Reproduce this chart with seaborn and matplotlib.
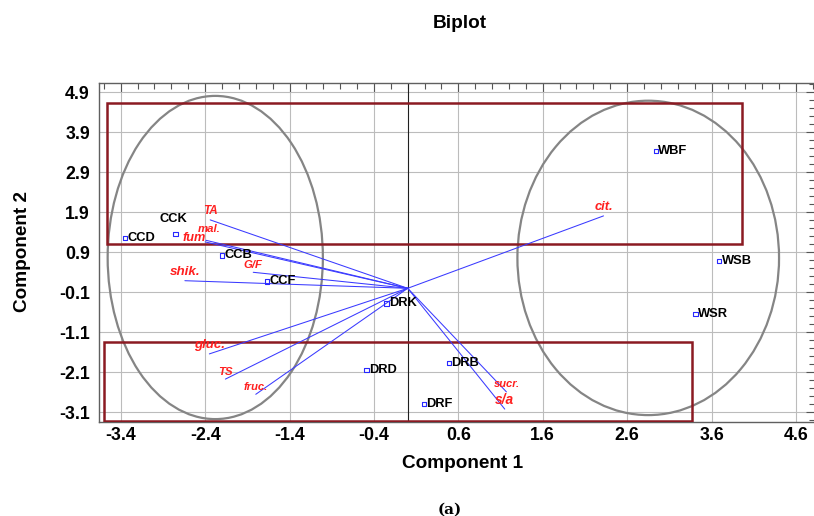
import numpy as np
import pandas as pd
import matplotlib
matplotlib.use("Agg")
import matplotlib.pyplot as plt
import seaborn as sns
from matplotlib.patches import Ellipse, Rectangle
from matplotlib.ticker import FixedLocator

# ---------------- data ----------------
sample_names = ["CCD", "CCK", "CCB", "CCF", "DRK", "DRD", "DRB", "DRF", "WBF", "WSB", "WSR"]
sample_pc1 = [-3.35, -2.75, -2.20, -1.67, -0.25, -0.49, 0.49, 0.19, 2.94, 3.69, 3.41]
sample_pc2 = [1.25, 1.36, 0.82, 0.17, -0.38, -2.04, -1.86, -2.90, 3.43, 0.68, -0.65]

var_names = ["TA", "mal.", "fum", "G/F", "shik.", "gluc.", "TS", "fruc.", "sucr.", "s/a", "cit."]
var_pc1 = [-2.34, -2.39, -2.40, -1.83, -2.64, -2.35, -2.16, -1.80, 1.17, 1.15, 2.32]
var_pc2 = [1.71, 1.20, 1.16, 0.40, 0.19, -1.64, -2.27, -2.65, -2.59, -3.02, 1.81]

x_ticks = [-3.4, -2.4, -1.4, -0.4, 0.6, 1.6, 2.6, 3.6, 4.6]
y_ticks = [-3.1, -2.1, -1.1, -0.1, 0.9, 1.9, 2.9, 3.9, 4.9]

# group ellipses: centre x, centre y, width, height
ellipse_cx = [-2.28, 2.85]
ellipse_cy = [0.77, 0.76]
ellipse_w = [2.55, 3.10]
ellipse_h = [8.08, 7.86]

# group boxes: x0, y0, x1, y1
box_x0 = [-3.56, -3.60]
box_y0 = [1.11, -3.31]
box_x1 = [3.96, 3.37]
box_y1 = [4.64, -1.335]

# ---------------- styling ----------------
sns.set_theme(style="white")
plt.rcParams["font.family"] = ["Liberation Sans", "DejaVu Sans"]
plt.rcParams["text.color"] = "black"
plt.rcParams["axes.labelcolor"] = "black"

DPI = 100
fig = plt.figure(figsize=(8.14, 5.16), dpi=DPI)
W, H = 814, 516
ax_left, ax_right, ax_top, ax_bottom = 99.3, 815.0, 82.7, 421.7
ax = fig.add_axes([ax_left / W, 1 - ax_bottom / H,
                   (ax_right - ax_left) / W, (ax_bottom - ax_top) / H])

ax.set_xlim(-3.654, 4.826)
ax.set_ylim(-3.335, 5.14)

ax.xaxis.set_major_locator(FixedLocator(x_ticks))
ax.yaxis.set_major_locator(FixedLocator(y_ticks))
ax.yaxis.set_minor_locator(FixedLocator(np.round(np.arange(-3.3, 5.2, 0.2), 2)))
ax.xaxis.set_minor_locator(FixedLocator(np.round(np.arange(-3.6, 4.9, 0.2), 2)))
ax.grid(True, which="major", color="#bcbcbc", lw=0.8, zorder=0)
ax.set_axisbelow(True)
ax.axvline(0, color="#202020", lw=0.8, zorder=1)

ax.set_xticklabels([f"{v:.1f}" for v in x_ticks])
ax.set_yticklabels([f"{v:.1f}" for v in y_ticks])
for lab in ax.get_xticklabels() + ax.get_yticklabels():
    lab.set_fontweight("bold")
    lab.set_fontsize(12.8)
    lab.set_color("black")

ax.tick_params(which="both", direction="in", top=True, right=True,
               color="#555555", width=0.8, labelcolor="black")
ax.tick_params(which="major", length=6.5)
ax.tick_params(which="minor", length=4.0)
ax.tick_params(axis="y", which="major", pad=6.7)
ax.tick_params(axis="x", which="major", pad=3.5)
for sp in ax.spines.values():
    sp.set_color("#606060")
    sp.set_linewidth(1.0)

# ellipses and boxes
for cx, cy, w, h in zip(ellipse_cx, ellipse_cy, ellipse_w, ellipse_h):
    ax.add_patch(Ellipse((cx, cy), w, h, fill=False, edgecolor="#858585", lw=1.6, zorder=2))
for x0, y0, x1, y1 in zip(box_x0, box_y0, box_x1, box_y1):
    ax.add_patch(Rectangle((x0, y0), x1 - x0, y1 - y0, fill=False,
                           edgecolor="#8b1a22", lw=1.8, zorder=3))

# loading vectors
vec_df = pd.DataFrame({"name": var_names, "pc1": var_pc1, "pc2": var_pc2})
for _, r in vec_df.iterrows():
    ax.plot([0, r.pc1], [0, r.pc2], color="#3a3aff", lw=0.75, zorder=4)

# label styles for vectors (size in pt, offset in px: dx, dy above endpoint)
vec_size = {"TA": 8.4, "mal.": 8.2, "fum": 9.2, "G/F": 8.2, "shik.": 9.6, "gluc.": 9.5,
            "TS": 8.2, "fruc.": 8.0, "sucr.": 8.0, "s/a": 9.9, "cit.": 9.3}
vec_off = {"mal.": (3.5, 6.0), "fum": (-11.0, -2.0)}
px2pt = 72.0 / DPI
for _, r in vec_df.iterrows():
    dx, dy = vec_off.get(r["name"], (0.0, 2.5))
    ax.annotate(r["name"], (r.pc1, r.pc2), xytext=(dx * px2pt, dy * px2pt),
                textcoords="offset points", ha="center", va="bottom",
                color="#ff2020", fontsize=vec_size[r["name"]], fontstyle="italic",
                fontweight="bold", zorder=6)

# sample scores
pts = pd.DataFrame({"name": sample_names, "pc1": sample_pc1, "pc2": sample_pc2})
sns.scatterplot(data=pts, x="pc1", y="pc2", marker="s", s=10,
                facecolor="none", edgecolor="#2828ff", linewidth=0.8, ax=ax, zorder=5)
for _, r in pts.iterrows():
    if r["name"] == "CCK":
        ax.annotate(r["name"], (r.pc1, r.pc2), xytext=(-2 * px2pt, 9 * px2pt),
                    textcoords="offset points", ha="center", va="bottom",
                    fontsize=9.3, fontweight="bold", color="black", zorder=6)
    else:
        ax.annotate(r["name"], (r.pc1, r.pc2), xytext=(2.5 * px2pt, 0),
                    textcoords="offset points", ha="left", va="center",
                    fontsize=9.3, fontweight="bold", color="black", zorder=6)

ax.set_xlabel("Component 1", fontsize=13.7, fontweight="bold", va="center", color="black")
ax.set_ylabel("Component 2", fontsize=13.7, fontweight="bold", va="center", color="black")
ax.xaxis.set_label_coords((463 - ax_left) / (ax_right - ax_left), (ax_bottom - 463) / (ax_bottom - ax_top))
ax.yaxis.set_label_coords((23 - ax_left) / (ax_right - ax_left), (ax_bottom - 251.7) / (ax_bottom - ax_top))

fig.text(460 / W, 1 - 23.5 / H, "Biplot", ha="center", va="center",
         fontsize=13.7, fontweight="bold", color="black")
fig.text(450 / W, 1 - 510 / H, "(a)", ha="center", va="center",
         fontsize=11, fontweight="bold", family=["DejaVu Serif"], color="black")

fig.savefig("out.png", dpi=DPI)
